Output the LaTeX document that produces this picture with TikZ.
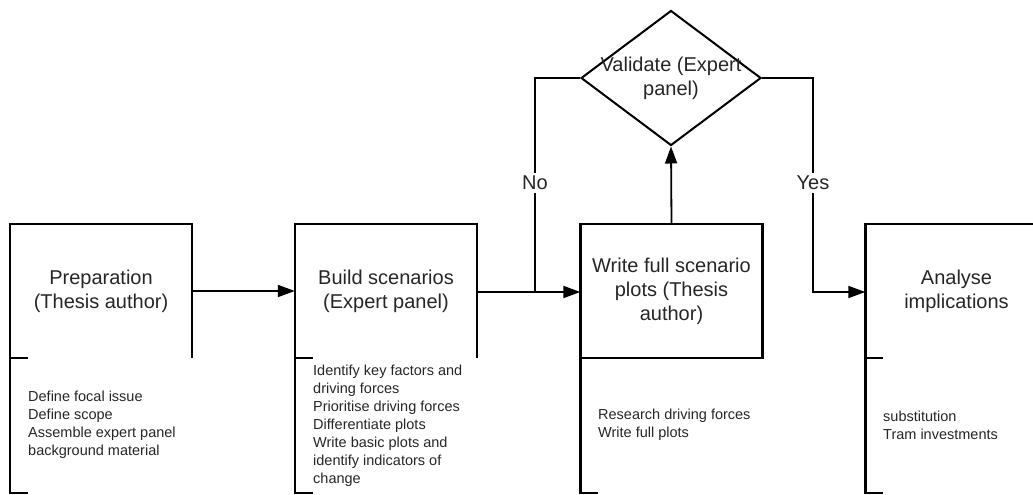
\documentclass[tikz,border=0pt]{standalone}
\usepackage{fontspec}
\setmainfont{Liberation Sans}
\usetikzlibrary{arrows.meta,shapes.geometric,calc}
\definecolor{ink}{HTML}{262626}
\begin{document}
\begin{tikzpicture}[x=1pt,y=-1pt,
  boxline/.style={line width=2.5pt,line join=miter},
  conn/.style={line width=1.8pt},
  arr/.style={conn,-{Triangle[length=17pt,width=12pt]}},
  head/.style={minimum width=182pt,minimum height=134pt,inner sep=0pt,
    align=center,text=ink,font=\fontsize{20}{24}\selectfont},
  steps/.style={anchor=west,align=left,inner sep=0pt,text=ink,
    font=\fontsize{14.5}{18}\selectfont},
  title/.style={align=center,text=ink,inner sep=0pt,
    font=\fontsize{20}{24}\selectfont},
  answer/.style={fill=white,text=ink,inner sep=3pt,
    font=\fontsize{20}{24}\selectfont}]
\useasboundingbox (0,0) rectangle (1033,495);
\clip (0,0) rectangle (1033,495);

% stage headers
\node[head] (prep)  at (101,291)   {Preparation\\(Thesis author)};
\node[head] (build) at (386,291)   {Build scenarios\\(Expert panel)};
\node[head] (write) at (671.5,291) {Write full scenario\\plots (Thesis\\author)};
\node[head] (anal)  at (956.5,291) {Analyse\\implications};

% header frames with the bracket beneath
\foreach \b in {prep,build,anal}{
  \draw[boxline] (\b.south east) -- (\b.north east) -- (\b.north west)
    -- ($(\b.south west)+(0,135)$) -- ++(18,0);
  \draw[boxline] (\b.south west) -- ++(18,0);
}
\draw[boxline] (write.south west) rectangle (write.north east);
\draw[boxline] (write.south west) -- ++(0,135) -- ++(18,0);

% task lists
\node[steps] (preplist) at (28,425) {Define focal issue\\Define scope\\Assemble expert panel\\background material};
\node[steps] (buildlist) at (313,426) {Identify key factors and\\driving forces\\Prioritise driving forces\\Differentiate plots\\Write basic plots and\\identify indicators of\\change};
\node[steps] (writelist) at (598,425) {Research driving forces\\Write full plots};
\node[steps] (anallist) at (883,425) {substitution\\Tram investments};

% validation decision
\node[diamond,draw,line width=2pt,minimum width=180pt,minimum height=135pt,inner sep=0pt] (val) at (671,78) {};
\node[title] (valtext) at (val.center) {Validate (Expert\\panel)};

\coordinate (nojoin) at (535,292);
\coordinate (yesjoin) at (813,292);

% flow
\draw[arr] (prep.east) -- (build.west);
\draw[arr] (build.east |- nojoin) -- (write.west |- nojoin);
\draw[arr] (write.north) -- (val.south);
\draw[conn] (val.west) -| (nojoin);
\draw[arr] (val.east) -| (yesjoin) -- (anal.west |- yesjoin);

\node[answer] (no)  at (535,183) {No};
\node[answer] (yes) at (813,183) {Yes};
\end{tikzpicture}
\end{document}
